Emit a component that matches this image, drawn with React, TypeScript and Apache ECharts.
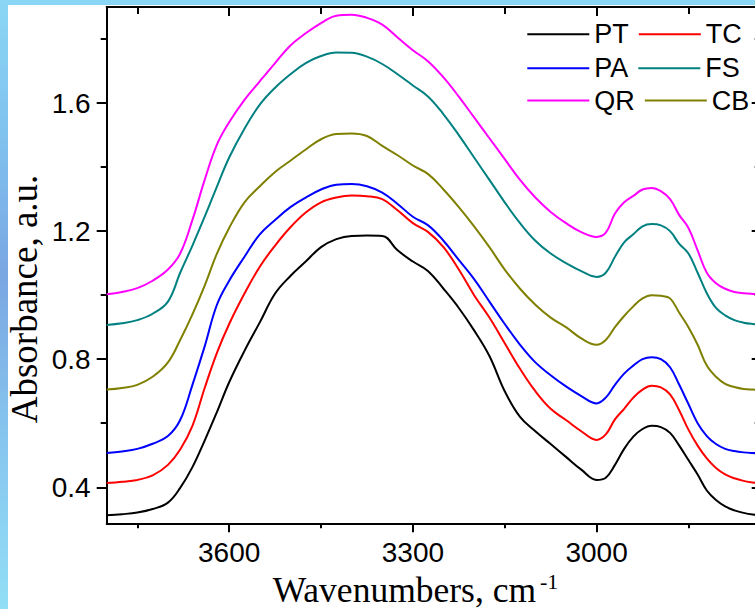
import React, { useEffect, useRef } from "react";
import * as echarts from "echarts";

// Wavenumber grid (cm-1)
const wavenumbers = [
  3800, 3775, 3750, 3725, 3700, 3680, 3660, 3640, 3620, 3600, 3575, 3550, 3525,
  3500, 3475, 3450, 3425, 3400, 3375, 3350, 3325, 3300, 3275, 3250, 3225, 3200,
  3175, 3150, 3125, 3100, 3075, 3050, 3025, 3000, 2985, 2970, 2955, 2940, 2925,
  2910, 2895, 2880, 2865, 2850, 2835, 2820, 2805, 2790, 2775, 2760, 2745, 2730,
];

const PT = [
  0.313, 0.316, 0.321, 0.332, 0.352, 0.398, 0.463, 0.546, 0.635, 0.728, 0.826, 0.915, 1.005,
  1.06, 1.105, 1.15, 1.175, 1.185, 1.186, 1.185, 1.14, 1.105, 1.075, 1.02, 0.96, 0.89,
  0.81, 0.7, 0.62, 0.575, 0.535, 0.495, 0.455, 0.423, 0.43, 0.47, 0.52, 0.558, 0.582,
  0.592, 0.588, 0.57, 0.53, 0.485, 0.44, 0.39, 0.36, 0.34, 0.328, 0.32, 0.315, 0.313,
];
const TC = [
  0.413, 0.417, 0.423, 0.437, 0.47, 0.518, 0.592, 0.71, 0.82, 0.91, 1.005, 1.089, 1.155,
  1.212, 1.258, 1.29, 1.305, 1.311, 1.309, 1.3, 1.265, 1.225, 1.197, 1.15, 1.08, 1.0,
  0.93, 0.85, 0.77, 0.7, 0.645, 0.61, 0.575, 0.548, 0.565, 0.612, 0.645, 0.68, 0.705,
  0.717, 0.712, 0.69, 0.64, 0.58, 0.53, 0.49, 0.46, 0.44, 0.428, 0.42, 0.415, 0.413,
];
const PA = [
  0.507, 0.512, 0.52, 0.536, 0.56, 0.61, 0.72, 0.84, 0.97, 1.045, 1.12, 1.19, 1.235,
  1.275, 1.305, 1.33, 1.345, 1.347, 1.34, 1.32, 1.285, 1.245, 1.218, 1.17, 1.11, 1.05,
  0.98, 0.91, 0.845, 0.79, 0.75, 0.715, 0.685, 0.662, 0.68, 0.72, 0.755, 0.78, 0.8,
  0.806, 0.8, 0.775, 0.72, 0.66, 0.6, 0.56, 0.535, 0.52, 0.513, 0.509, 0.507, 0.506,
];
const FS = [
  0.907, 0.912, 0.922, 0.942, 0.98, 1.07, 1.155, 1.245, 1.339, 1.43, 1.52, 1.595, 1.648,
  1.69, 1.725, 1.747, 1.758, 1.757, 1.745, 1.722, 1.69, 1.655, 1.62, 1.565, 1.5, 1.43,
  1.36, 1.29, 1.225, 1.17, 1.13, 1.1, 1.075, 1.057, 1.07, 1.12, 1.165, 1.19, 1.215,
  1.222, 1.218, 1.2, 1.16, 1.13, 1.07, 1.006, 0.96, 0.937, 0.922, 0.914, 0.91, 0.908,
];
const QR = [
  1.003, 1.01, 1.022, 1.045, 1.08, 1.13, 1.235, 1.36, 1.47, 1.54, 1.61, 1.668, 1.725,
  1.78, 1.818, 1.85, 1.873, 1.876, 1.866, 1.845, 1.805, 1.765, 1.73, 1.68, 1.62, 1.555,
  1.49, 1.425, 1.36, 1.305, 1.26, 1.225, 1.197, 1.182, 1.195, 1.255, 1.29, 1.31, 1.33,
  1.335, 1.325, 1.3, 1.25, 1.21, 1.14, 1.07, 1.037, 1.02, 1.01, 1.006, 1.004, 1.003,
];
const CB = [
  0.705, 0.71, 0.72, 0.745, 0.79, 0.86, 0.94, 1.03, 1.13, 1.21, 1.29, 1.34, 1.385,
  1.42, 1.455, 1.487, 1.503, 1.505, 1.497, 1.466, 1.437, 1.405, 1.378, 1.33, 1.275, 1.215,
  1.15, 1.08, 1.02, 0.97, 0.93, 0.9, 0.865, 0.845, 0.86, 0.9, 0.935, 0.965, 0.99,
  1.0, 0.998, 0.99, 0.945, 0.9, 0.845, 0.78, 0.745, 0.723, 0.713, 0.707, 0.705, 0.704,
];

const seriesNames = ["PT", "TC", "PA", "FS", "QR", "CB"];
const seriesValues = [PT, TC, PA, FS, QR, CB];
const seriesColors = ["#000000", "#ff0000", "#0000ff", "#008080", "#ff00ff", "#808000"];

const xMajorTicks = [3600, 3300, 3000];
const xMinorTicks = [3750, 3450, 3150, 2850];
const yMajorTicks = [0.4, 0.8, 1.2, 1.6];
const yMinorTicks = [0.6, 1.0, 1.4, 1.8];

const X_MIN = 2732;
const X_MAX = 3800;
const Y_MIN = 0.2875;
const Y_MAX = 1.9;

const SANS = "'Liberation Sans', Arial, sans-serif";
const SERIF = "'Liberation Serif', 'Times New Roman', serif";

function xAxisDef(position: string, ticks: number[], len: number, inside: boolean, labels: boolean, line: boolean) {
  return {
    type: "value",
    position,
    inverse: true,
    min: X_MIN,
    max: X_MAX,
    axisLine: { show: line, onZero: false, lineStyle: { color: "#000", width: 2 } },
    axisTick: { show: true, customValues: ticks, length: len, inside, lineStyle: { color: "#000", width: 2 } },
    axisLabel: labels
      ? {
          show: true,
          customValues: ticks,
          margin: 15,
          color: "#000",
          fontSize: 28,
          fontFamily: SANS,
          formatter: (v: number) => String(Math.round(v)),
        }
      : { show: false },
    splitLine: { show: false },
  };
}

function yAxisDef(position: string, ticks: number[], len: number, inside: boolean, labels: boolean, line: boolean) {
  return {
    type: "value",
    position,
    min: Y_MIN,
    max: Y_MAX,
    axisLine: { show: line, onZero: false, lineStyle: { color: "#000", width: 2 } },
    axisTick: { show: true, customValues: ticks, length: len, inside, lineStyle: { color: "#000", width: 2 } },
    axisLabel: labels
      ? {
          show: true,
          customValues: ticks,
          margin: 16,
          color: "#000",
          fontSize: 28,
          fontFamily: SANS,
          formatter: (v: number) => v.toFixed(1),
        }
      : { show: false },
    splitLine: { show: false },
  };
}

function legendDef(names: string[], top: number) {
  return {
    data: names,
    orient: "horizontal",
    left: 527.3,
    top,
    padding: 0,
    icon: "rect",
    itemWidth: 62,
    itemHeight: 2,
    itemGap: 10,
    selectedMode: false,
    textStyle: { fontSize: 27, fontFamily: SANS, color: "#000" },
  };
}

export default function App() {
  const ref = useRef<HTMLDivElement>(null);

  useEffect(() => {
    if (!ref.current) return;
    const chart = echarts.init(ref.current, undefined, { renderer: "svg" });
    const option = {
      animation: false,
      grid: { left: 106.7, top: 7, width: 654, height: 516.3, containLabel: false },
      xAxis: [
        xAxisDef("bottom", xMajorTicks, 9, false, true, true),
        xAxisDef("bottom", xMinorTicks, 5, false, false, false),
        xAxisDef("top", xMajorTicks, 9, true, false, true),
        xAxisDef("top", xMinorTicks, 7, true, false, false),
      ],
      yAxis: [
        yAxisDef("left", yMajorTicks, 10, false, true, true),
        yAxisDef("left", yMinorTicks, 6, false, false, false),
        yAxisDef("right", yMajorTicks, 9, true, false, true),
        yAxisDef("right", yMinorTicks, 6, true, false, false),
      ],
      legend: [
        legendDef(["PT", "TC"], 20.8),
        legendDef(["PA", "FS"], 54.8),
        legendDef(["QR", "CB"], 87),
      ],
      series: seriesNames.map((name, i) => ({
        name,
        type: "line",
        xAxisIndex: 0,
        yAxisIndex: 0,
        symbol: "none",
        smooth: 0.4,
        color: seriesColors[i],
        itemStyle: { color: seriesColors[i] },
        lineStyle: { color: seriesColors[i], width: 2 },
        data: wavenumbers.map((w, k) => [w, seriesValues[i][k]]),
      })),
      graphic: [
        {
          type: "rect",
          z: -100,
          silent: true,
          shape: { x: 8, y: 5, width: 760, height: 604 },
          style: { fill: "#ffffff" },
        },
        {
          type: "text",
          x: 24.5,
          y: 299,
          rotation: Math.PI / 2,
          style: {
            text: "Absorbance, a.u.",
            fontSize: 37,
            fontFamily: SERIF,
            fill: "#000",
            align: "center",
            verticalAlign: "middle",
          },
        },
        {
          type: "text",
          x: 272.7,
          y: 590,
          style: {
            text: "Wavenumbers, cm",
            fontSize: 35.5,
            fontFamily: SERIF,
            fill: "#000",
            align: "left",
            verticalAlign: "middle",
          },
        },
        {
          type: "text",
          x: 540,
          y: 581,
          style: {
            text: "-1",
            fontSize: 22,
            fontFamily: SERIF,
            fill: "#000",
            align: "left",
            verticalAlign: "middle",
          },
        },
      ],
    };
    chart.setOption(option as any);
    return () => chart.dispose();
  }, []);

  return (
    <div
      style={{
        position: "fixed",
        left: 0,
        top: 0,
        width: 755,
        height: 609,
        overflow: "hidden",
        background:
          "linear-gradient(180deg, #8ad6f4 0%, #7fbfee 25%, #7aa6e2 45%, #86c4ee 70%, #92def6 100%)",
      }}
    >
      <div
        ref={ref}
        style={{ position: "absolute", left: 0, top: 0, width: 768, height: 609 }}
      />
    </div>
  );
}
